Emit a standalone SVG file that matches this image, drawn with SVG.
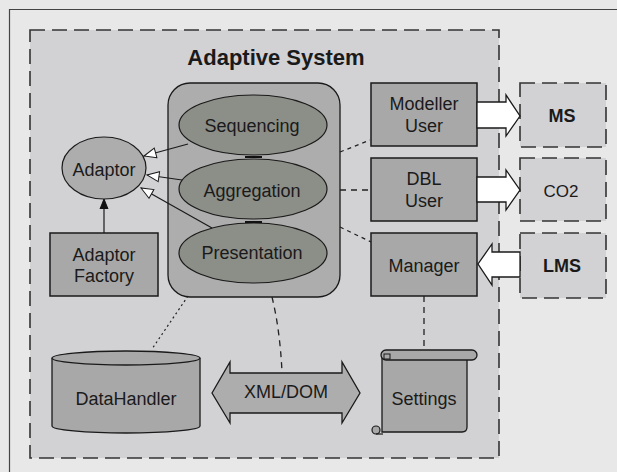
<svg xmlns="http://www.w3.org/2000/svg" width="617" height="472" viewBox="0 0 617 472">
<defs>
<style>
text{font-family:"Liberation Sans",Arial,sans-serif;font-size:18px;fill:#1a1a1a;text-anchor:middle}
.box{fill:#a8a8a8;stroke:#1a1a1a;stroke-width:1.5}
.ell{fill:#8c8e88;stroke:#1a1a1a;stroke-width:1.2}
.ext{fill:#d2d1d4;stroke:#333;stroke-width:1.6;stroke-dasharray:15 7}
.dot{fill:none;stroke:#222;stroke-width:1.2;stroke-dasharray:2 3}
.dash{fill:none;stroke:#222;stroke-width:1.3;stroke-dasharray:6 5}
.ln{fill:none;stroke:#1a1a1a;stroke-width:1.2}
.blk{fill:#fff;stroke:#1a1a1a;stroke-width:1.3}
.b{font-weight:bold}
</style>
<marker id="hollow" viewBox="0 0 14 12" refX="13" refY="6" markerWidth="14" markerHeight="12" markerUnits="userSpaceOnUse" orient="auto">
<path d="M1,1 L13,6 L1,11 Z" fill="#fff" stroke="#1a1a1a" stroke-width="1"/>
</marker>
<marker id="solid" viewBox="0 0 10 10" refX="9" refY="5" markerWidth="10" markerHeight="10" markerUnits="userSpaceOnUse" orient="auto">
<path d="M0,1 L10,5 L0,9 Z" fill="#111" stroke="#111" stroke-width="1"/>
</marker>
</defs>
<rect x="0" y="0" width="617" height="472" fill="#e8e8e8"/>
<path d="M9.5,472 V9.5 H617" fill="none" stroke="#444" stroke-width="1.2"/>

<g id="adaptive-system">
<rect x="30" y="30" width="469" height="428" class="ext"/>
<text x="276" y="65" class="b" style="font-size:22px">Adaptive System</text>
</g>

<g id="container">
<rect x="168" y="83" width="172" height="214" rx="22" ry="22" fill="#adadad" stroke="#1a1a1a" stroke-width="1.3"/>
</g>

<g id="sequencing">
<ellipse cx="253" cy="125" rx="74" ry="30" class="ell"/>
<text x="252" y="132">Sequencing</text>
</g>
<g id="aggregation">
<ellipse cx="253" cy="189" rx="74" ry="30" class="ell"/>
<text x="252" y="197">Aggregation</text>
</g>
<g id="presentation">
<ellipse cx="253" cy="253" rx="74" ry="30" class="ell"/>
<text x="252" y="259">Presentation</text>
</g>

<g id="adaptor">
<ellipse cx="104" cy="168" rx="42" ry="31" fill="#adadad" stroke="#1a1a1a" stroke-width="1.2"/>
<text x="104" y="176">Adaptor</text>
</g>

<g id="adaptor-factory">
<rect x="50" y="233" width="108" height="63" class="box"/>
<text x="104" y="261">Adaptor</text>
<text x="104" y="282">Factory</text>
</g>

<g id="modeller-user">
<rect x="371" y="83" width="106" height="63" class="box"/>
<text x="424" y="110">Modeller</text>
<text x="424" y="132">User</text>
</g>
<g id="dbl-user">
<rect x="371" y="158" width="106" height="63" class="box"/>
<text x="424" y="185">DBL</text>
<text x="424" y="207">User</text>
</g>
<g id="manager">
<rect x="371" y="233" width="106" height="63" class="box"/>
<text x="424" y="272">Manager</text>
</g>

<g id="ms">
<rect x="520" y="83" width="86" height="64" class="ext"/>
<text x="562" y="122" class="b">MS</text>
</g>
<g id="co2">
<rect x="520" y="158" width="86" height="63" class="ext"/>
<text x="561" y="197" style="font-size:17px">CO2</text>
</g>
<g id="lms">
<rect x="520" y="233" width="86" height="65" class="ext"/>
<text x="562" y="272" class="b">LMS</text>
</g>

<g id="datahandler">
<path d="M52,358 V426 A74,7 0 0 0 200,426 V358" fill="#a8a8a8" stroke="#1a1a1a" stroke-width="1.3"/>
<ellipse cx="126" cy="358" rx="74" ry="7" fill="#a8a8a8" stroke="#1a1a1a" stroke-width="1.3"/>
<text x="126" y="405">DataHandler</text>
</g>

<g id="xml-dom">
<path d="M212,393 L230,362 V373 H342 V362 L360,393 L342,423 V413 H230 V423 Z" fill="#adadad" stroke="#1a1a1a" stroke-width="1.3"/>
<text x="286" y="398">XML/DOM</text>
</g>

<g id="settings">
<path d="M382,356 V432 H462 Q467,432 467,427 V360" fill="#a8a8a8" stroke="#1a1a1a" stroke-width="1.3"/>
<circle cx="376" cy="430" r="4" fill="#a8a8a8" stroke="#1a1a1a" stroke-width="1.2"/>
<path d="M376,434 H383" class="ln"/>
<rect x="381" y="350" width="96" height="10" rx="5" ry="5" fill="#a8a8a8" stroke="#1a1a1a" stroke-width="1.3"/>
<rect x="384" y="354" width="6" height="5" fill="#a8a8a8" stroke="#1a1a1a" stroke-width="1"/>
<text x="424" y="405">Settings</text>
</g>

<g id="connectors">
<line x1="188" y1="144" x2="144" y2="156" class="ln" marker-end="url(#hollow)"/>
<line x1="182" y1="180" x2="147" y2="175" class="ln" marker-end="url(#hollow)"/>
<line x1="212" y1="228" x2="141" y2="188" class="ln" marker-end="url(#hollow)"/>
<line x1="104" y1="233" x2="104" y2="200" class="ln" marker-end="url(#solid)"/>
<rect x="245" y="156" width="17" height="2" fill="#111"/>
<rect x="245" y="221" width="17" height="2" fill="#111"/>
<line x1="340" y1="152" x2="370" y2="140" class="dash" style="stroke-dasharray:4 4"/>
<line x1="340" y1="190" x2="370" y2="190" class="dash"/>
<line x1="340" y1="227" x2="371" y2="242" class="dash" style="stroke-dasharray:4 4"/>
<line x1="188" y1="296" x2="152" y2="349" class="dot"/>
<path d="M272,297 Q280,330 282,372" class="dash"/>
<line x1="424" y1="296" x2="424" y2="350" class="dash"/>
<path d="M477,102 H506 V95 L520,116 L506,136 V128 H477 Z" class="blk"/>
<path d="M477,177 H506 V170 L520,190 L506,210 V202 H477 Z" class="blk"/>
<path d="M520,252 H492 V244 L478,264 L492,285 V277 H520 Z" class="blk"/>
</g>
</svg>
